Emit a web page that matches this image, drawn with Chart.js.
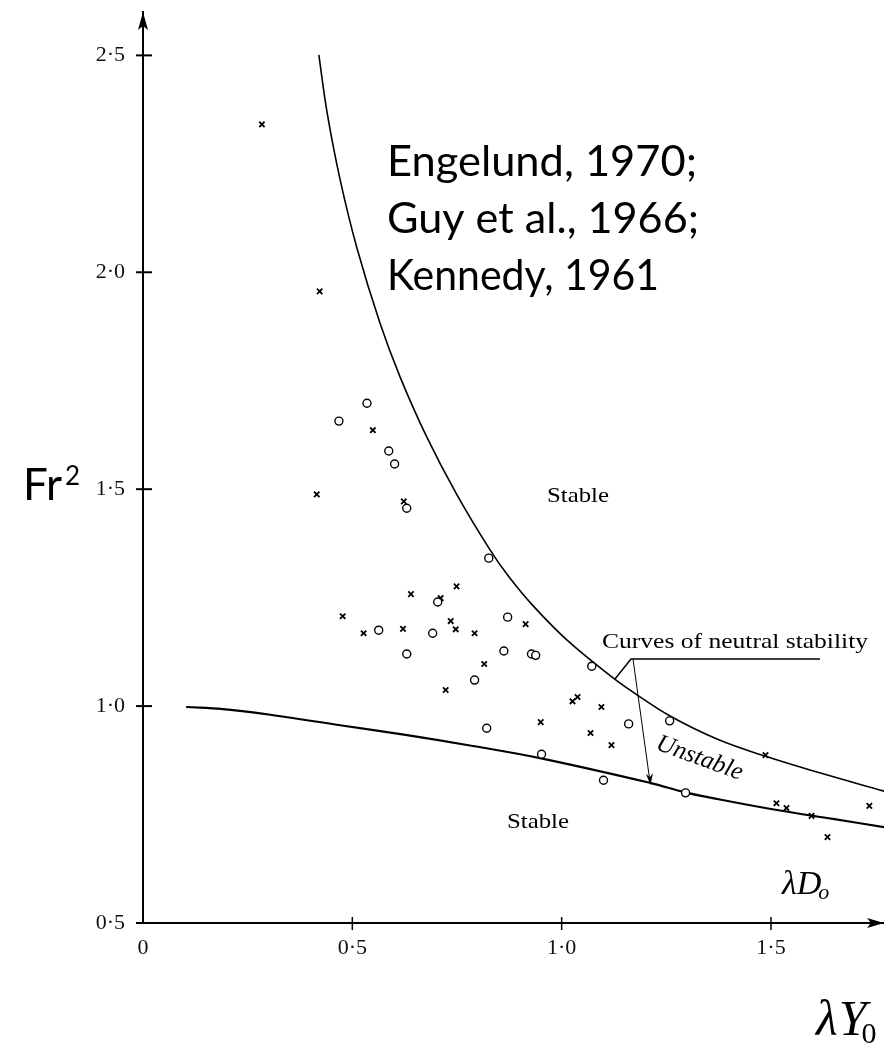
<!DOCTYPE html>
<html><head><meta charset="utf-8">
<script src="https://cdn.jsdelivr.net/npm/chart.js@4/dist/chart.umd.min.js"></script>
<style>html,body{margin:0;padding:0;background:#fff;}#wrap{width:884px;height:1045px;position:relative;}canvas{display:block;}</style>
</head><body><div id="wrap"><canvas id="c" width="884" height="1045"></canvas></div>
<script>
const xTickValues = [0, 0.5, 1.0, 1.5];
const xTickLabels = ['0', '0·5', '1·0', '1·5'];
const yTickValues = [0.5, 1.0, 1.5, 2.0, 2.5];
const yTickLabels = ['0·5', '1·0', '1·5', '2·0', '2·5'];

const circleX = [0.535, 0.468, 0.587, 0.601, 0.630, 0.826, 0.704, 0.871, 0.563, 0.692, 0.630, 0.862, 0.928, 0.938, 1.072, 0.792, 0.821, 1.160, 1.258, 0.952, 1.100, 1.296];
const circleY = [1.698, 1.657, 1.588, 1.558, 1.456, 1.341, 1.240, 1.205, 1.175, 1.168, 1.120, 1.127, 1.120, 1.117, 1.092, 1.060, 0.949, 0.959, 0.966, 0.889, 0.829, 0.800];

const crossX = [0.284, 0.422, 0.549, 0.415, 0.623, 0.640, 0.749, 0.711, 0.477, 0.914, 0.527, 0.621, 0.735, 0.747, 0.792, 0.815, 0.723, 1.026, 1.038, 1.095, 0.950, 1.069, 1.119, 1.487, 1.513, 1.537, 1.597, 1.735, 1.635];
const crossY = [2.341, 1.956, 1.636, 1.488, 1.472, 1.258, 1.276, 1.249, 1.207, 1.189, 1.168, 1.178, 1.196, 1.177, 1.168, 1.097, 1.037, 1.011, 1.021, 0.998, 0.963, 0.938, 0.910, 0.887, 0.776, 0.765, 0.747, 0.770, 0.698];

const upperCurveX = [0.420, 0.440, 0.471, 0.511, 0.566, 0.614, 0.678, 0.750, 0.829, 0.874, 0.932, 1.013, 1.123, 1.180, 1.259, 1.371, 1.491, 1.610, 1.770];
const upperCurveY = [2.501, 2.367, 2.213, 2.056, 1.883, 1.759, 1.620, 1.487, 1.360, 1.298, 1.231, 1.152, 1.065, 1.026, 0.977, 0.924, 0.883, 0.848, 0.804];

const lowerCurveX = [0.103, 0.191, 0.311, 0.471, 0.631, 0.788, 0.948, 1.211, 1.300, 1.409, 1.529, 1.648, 1.770];
const lowerCurveY = [0.998, 0.993, 0.979, 0.956, 0.933, 0.908, 0.880, 0.823, 0.800, 0.779, 0.758, 0.740, 0.721];

const toPts = (xs, ys) => xs.map((x, i) => ({x: x, y: ys[i]}));

const SERIF = '"Liberation Serif", "Times New Roman", serif';
const SANS = 'Lato, "Open Sans", sans-serif';

function drawText(ctx, txt, x, y, font, targetW) {
  ctx.save();
  ctx.font = font;
  ctx.fillStyle = '#000';
  ctx.textBaseline = 'alphabetic';
  ctx.textAlign = 'left';
  const w = ctx.measureText(txt).width;
  const sx = targetW ? targetW / w : 1;
  ctx.translate(x, y);
  ctx.scale(sx, 1);
  ctx.fillText(txt, 0, 0);
  ctx.restore();
  return w * sx;
}

const decor = {
  id: 'decor',
  afterDraw(chart) {
    const ctx = chart.ctx;
    const xs = chart.scales.x, ys = chart.scales.y;
    const L = chart.chartArea.left, B = chart.chartArea.bottom, T = chart.chartArea.top, R = chart.chartArea.right;
    ctx.save();
    ctx.strokeStyle = '#000';
    ctx.fillStyle = '#000';
    ctx.lineWidth = 2;
    yTickValues.forEach(v => {
      const p = ys.getPixelForValue(v);
      ctx.beginPath(); ctx.moveTo(L - 7, p); ctx.lineTo(L + 9, p); ctx.stroke();
    });
    ctx.lineWidth = 1.5;
    xTickValues.slice(1).forEach(v => {
      const p = xs.getPixelForValue(v);
      ctx.beginPath(); ctx.moveTo(p, B - 6); ctx.lineTo(p, B + 7); ctx.stroke();
    });
    // arrow heads
    ctx.beginPath();
    ctx.moveTo(L, T); ctx.lineTo(L - 5, T + 18); ctx.lineTo(L, T + 14); ctx.lineTo(L + 5, T + 18); ctx.closePath(); ctx.fill();
    ctx.beginPath();
    ctx.moveTo(R, B); ctx.lineTo(R - 17, B - 5); ctx.lineTo(R - 13, B); ctx.lineTo(R - 17, B + 5); ctx.closePath(); ctx.fill();
    // leader lines
    ctx.lineWidth = 1.5;
    ctx.beginPath(); ctx.moveTo(615, 679); ctx.lineTo(631, 659); ctx.lineTo(820, 659); ctx.stroke();
    ctx.lineWidth = 1;
    ctx.beginPath(); ctx.moveTo(633, 659); ctx.lineTo(650, 782); ctx.stroke();
    ctx.beginPath(); ctx.moveTo(650.5, 785); ctx.lineTo(646, 774); ctx.lineTo(650, 777); ctx.lineTo(653, 773); ctx.closePath(); ctx.fill();
    ctx.restore();

    drawText(ctx, 'Engelund, 1970;', 387, 176, '42px ' + SANS, 310);
    drawText(ctx, 'Guy et al., 1966;', 387, 233, '42px ' + SANS, 312);
    drawText(ctx, 'Kennedy, 1961', 387, 290, '42px ' + SANS, 272);
    drawText(ctx, 'Fr', 23, 500, '44px ' + SANS);
    drawText(ctx, '2', 65, 485, '26px ' + SANS);
    drawText(ctx, 'Stable', 547, 502, '22px ' + SERIF, 62);
    drawText(ctx, 'Stable', 507, 828, '22px ' + SERIF, 62);
    drawText(ctx, 'Curves of neutral stability', 602, 648, '22px ' + SERIF, 266);
    const wl = drawText(ctx, 'λ', 816, 1035, 'italic 50px ' + SERIF);
    const wy = drawText(ctx, 'Y', 816 + wl + 1, 1035, 'italic 50px ' + SERIF);
    drawText(ctx, '0', 816 + wl + wy - 4, 1043, '30px ' + SERIF);
    const wd = drawText(ctx, 'λD', 782, 894, 'italic 34px ' + SERIF);
    drawText(ctx, 'o', 782 + wd - 3, 899, 'italic 22px ' + SERIF);
    ctx.save();
    ctx.translate(700, 757);
    ctx.rotate(0.35);
    ctx.font = 'italic 25px ' + SERIF;
    ctx.textAlign = 'center';
    ctx.fillStyle = '#000';
    ctx.fillText('Unstable', 0, 8);
    ctx.restore();
  }
};

new Chart(document.getElementById('c'), {
  type: 'scatter',
  data: {
    datasets: [
      {label: 'circles', data: toPts(circleX, circleY), pointStyle: 'circle', radius: 4, borderWidth: 1.4, borderColor: '#000', backgroundColor: '#fff', showLine: false},
      {label: 'crosses', data: toPts(crossX, crossY), pointStyle: 'crossRot', radius: 3.8, borderWidth: 1.8, borderColor: '#000', showLine: false},
      {label: 'upper', data: toPts(upperCurveX, upperCurveY), showLine: true, pointRadius: 0, borderColor: '#000', borderWidth: 1.6, tension: 0.4, fill: false},
      {label: 'lower', data: toPts(lowerCurveX, lowerCurveY), showLine: true, pointRadius: 0, borderColor: '#000', borderWidth: 2.1, tension: 0.4, fill: false}
    ]
  },
  options: {
    responsive: false,
    animation: false,
    events: [],
    layout: {autoPadding: false, padding: {top: 12, left: 0, right: 0, bottom: 0}},
    plugins: {legend: {display: false}, tooltip: {enabled: false}, title: {display: false}},
    scales: {
      x: {
        type: 'linear', min: 0, max: 1.77,
        afterBuildTicks: s => { s.ticks = xTickValues.map(v => ({value: v})); },
        afterFit: s => { s.height = 122; s.paddingLeft = 0; s.paddingRight = 0; s.paddingTop = 0; s.paddingBottom = 0; },
        ticks: {callback: v => xTickLabels[xTickValues.indexOf(v)], font: {family: SERIF, size: 22}, color: '#111', padding: 12, maxRotation: 0, autoSkip: false},
        grid: {display: false, drawTicks: false},
        border: {display: true, color: '#000', width: 2}
      },
      y: {
        type: 'linear', min: 0.5, max: 2.6,
        afterBuildTicks: s => { s.ticks = yTickValues.map(v => ({value: v})); },
        afterFit: s => { s.width = 143; s.paddingLeft = 0; s.paddingRight = 0; s.paddingTop = 0; s.paddingBottom = 0; },
        ticks: {callback: v => yTickLabels[yTickValues.indexOf(v)], font: {family: SERIF, size: 22}, color: '#111', padding: 18, autoSkip: false},
        grid: {display: false, drawTicks: false},
        border: {display: true, color: '#000', width: 2}
      }
    }
  },
  plugins: [decor]
});
</script>
</body></html>
